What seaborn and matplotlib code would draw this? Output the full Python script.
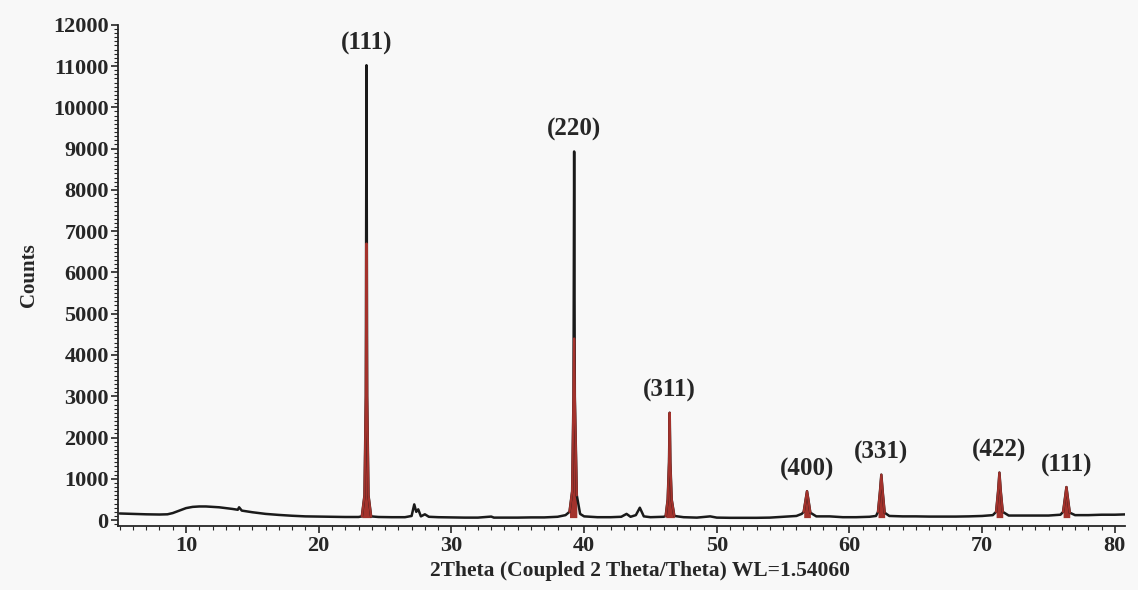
import numpy as np
import pandas as pd
import seaborn as sns
import matplotlib.pyplot as plt
from matplotlib.ticker import MultipleLocator

# XRD profile (2theta in degrees, counts)
two_theta = [5.0, 6.0, 7.0, 8.0, 8.6, 9.0, 9.5, 10.0, 10.5, 11.0, 11.5, 12.0, 12.5, 13.0, 13.5,
             13.9, 14.0, 14.2, 15.0, 16.0, 17.0, 18.0, 19.0, 20.0, 21.0, 22.0, 23.0,
             23.25, 23.45, 23.55, 23.6, 23.65, 23.75, 23.95,
             24.5, 25.5, 26.5, 27.0, 27.2, 27.35, 27.5, 27.7, 28.0, 28.3, 29.0, 30.0, 31.0, 32.0,
             33.0, 33.2, 34.0, 35.0, 36.0, 37.0, 38.0, 38.6,
             38.9, 39.1, 39.2, 39.25, 39.3, 39.45, 39.7,
             40.0, 41.0, 42.0, 42.8, 43.2, 43.5, 43.9, 44.2, 44.5, 45.0, 46.0,
             46.15, 46.3, 46.4, 46.45, 46.5, 46.6, 46.8,
             47.5, 48.5, 49.5, 50.0, 51.0, 52.0, 53.0, 54.0, 55.0, 56.0, 56.4,
             56.55, 56.7, 56.8, 56.9, 57.05,
             57.5, 58.5, 59.5, 60.5, 61.5, 62.0,
             62.15, 62.3, 62.4, 62.5, 62.65,
             63.0, 64.0, 65.0, 66.0, 67.0, 68.0, 69.0, 70.0, 70.8,
             71.05, 71.2, 71.3, 71.4, 71.55,
             72.0, 73.0, 74.0, 75.0, 75.9,
             76.1, 76.25, 76.35, 76.45, 76.6,
             77.0, 78.0, 79.0, 80.0, 81.0]
counts = [160, 150, 140, 135, 140, 170, 230, 290, 320, 330, 330, 320, 310, 290, 270,
          250, 310, 230, 190, 150, 125, 105, 90, 85, 80, 75, 75,
          90, 600, 3000, 11020, 3000, 600, 90,
          75, 70, 70, 100, 380, 200, 260, 90, 140, 80, 70, 65, 60, 60,
          85, 60, 60, 60, 65, 65, 80, 120,
          200, 700, 3000, 8930, 3000, 600, 150,
          90, 70, 70, 80, 150, 80, 120, 300, 90, 70, 80,
          100, 500, 1400, 2600, 1400, 500, 100,
          70, 60, 90, 60, 55, 55, 55, 60, 80, 100, 150,
          200, 500, 700, 500, 180,
          90, 90, 70, 70, 80, 100,
          200, 700, 1100, 700, 180,
          100, 90, 90, 85, 85, 85, 90, 100, 120,
          200, 700, 1150, 700, 200,
          110, 110, 110, 110, 130,
          200, 550, 800, 550, 180,
          120, 120, 130, 130, 140]

peak_theta = [23.6, 39.25, 46.45, 56.8, 62.4, 71.3, 76.35]
peak_counts = [11020, 8930, 2600, 700, 1100, 1150, 800]
peak_red_top = [6700, 4400, 2600, 700, 1100, 1150, 800]
peak_labels = ["(111)", "(220)", "(311)", "(400)", "(331)", "(422)", "(111)"]

df = pd.DataFrame({"two_theta": two_theta, "counts": counts})

sns.set_style("ticks")
plt.rcParams["font.family"] = ["Liberation Serif", "DejaVu Serif"]
plt.rcParams["font.weight"] = "bold"

fig = plt.figure(figsize=(11.38, 5.90), dpi=100, facecolor="#f8f8f8")
ax = fig.add_axes([0.104, 0.108, 0.885, 0.85])
ax.set_facecolor("#f8f8f8")

sns.lineplot(data=df, x="two_theta", y="counts", color="#1a1a1a", linewidth=1.8,
             sort=False, ax=ax)

# red peak bodies
x = df["two_theta"].to_numpy()
y = df["counts"].to_numpy()
red = "#a3322c"
for pos, cap in zip(peak_theta, peak_red_top):
    m = (x >= pos - 0.36) & (x <= pos + 0.36)
    yc = np.minimum(y[m], cap)
    ax.fill_between(x[m], 60, yc, color=red, linewidth=0)
    ax.plot(x[m], yc, color=red, linewidth=1.6)

for pos, h, lab in zip(peak_theta, peak_counts, peak_labels):
    ax.text(pos, h + 250, lab, ha="center", va="bottom", fontsize=18, fontweight="bold")

ax.set_xlim(4.9, 80.8)
ax.set_ylim(-150, 12000)
ax.xaxis.set_major_locator(MultipleLocator(10))
ax.xaxis.set_minor_locator(MultipleLocator(1))
ax.yaxis.set_major_locator(MultipleLocator(1000))
ax.yaxis.set_minor_locator(MultipleLocator(100))
ax.tick_params(axis="both", which="major", length=5, width=1.2, labelsize=16,
               direction="out", pad=2)
ax.tick_params(axis="both", which="minor", length=3, width=0.8)
for t in ax.get_xticklabels() + ax.get_yticklabels():
    t.set_fontweight("bold")

sns.despine(ax=ax)
ax.spines["left"].set_linewidth(1.3)
ax.spines["bottom"].set_linewidth(1.3)

ax.set_xlabel("2Theta (Coupled 2 Theta/Theta) WL=1.54060", fontsize=15.5,
              fontweight="bold")
ax.xaxis.set_label_coords(0.518, -0.07)
ax.set_ylabel("Counts", fontsize=15, fontweight="bold", labelpad=10)

fig.savefig("out.png", dpi=100, facecolor=fig.get_facecolor())
